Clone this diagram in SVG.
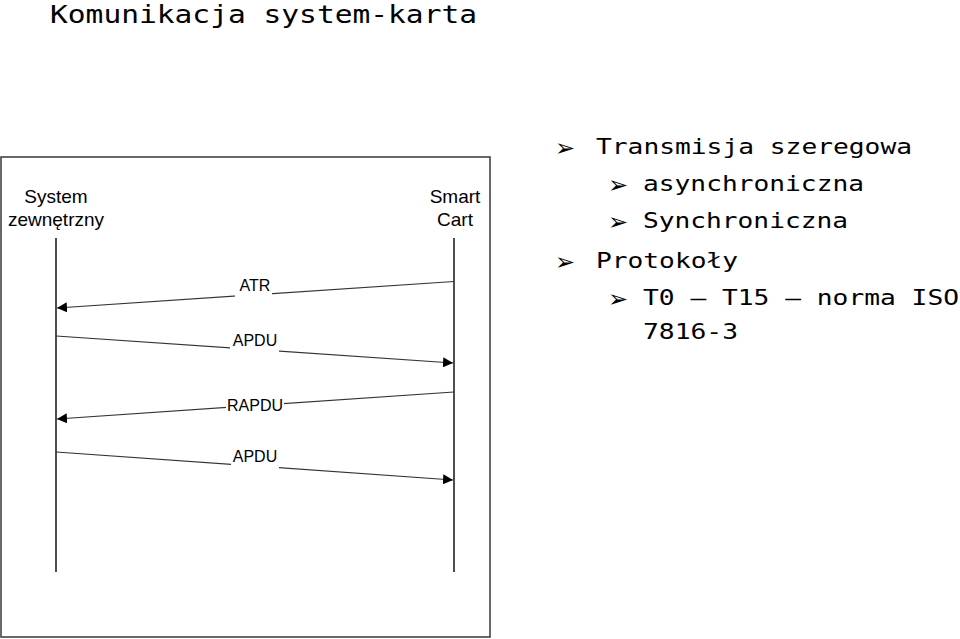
<svg xmlns="http://www.w3.org/2000/svg" width="960" height="639" viewBox="0 0 960 639">
<style>
.mono{font-family:"DejaVu Sans Mono","Liberation Mono",monospace;fill:#000}
.lbl{font-family:"Liberation Sans",Arial,sans-serif;fill:#000}
.msg{font-family:"Liberation Sans",Arial,sans-serif;font-size:16px;fill:#000;text-anchor:middle}
.gap{fill:#fff;stroke:none}
.bul{font-family:"DejaVu Sans",sans-serif;font-size:24px;fill:#000}
.conn{stroke:#333;stroke-width:1.2;fill:none;marker-end:url(#ah)}
.life{stroke:#222;stroke-width:1.6}
</style>
<defs>
<marker id="ah" viewBox="0 0 10 10" refX="10" refY="5" markerWidth="10" markerHeight="10" markerUnits="userSpaceOnUse" orient="auto">
<path d="M0,0 L10,5 L0,10 Z" fill="#000"/>
</marker>
</defs>
<rect width="960" height="639" fill="#fff"/>
<text class="mono" x="50" y="23" font-size="24" textLength="427" lengthAdjust="spacingAndGlyphs">Komunikacja system-karta</text>

<rect id="frame" x="1" y="157" width="489" height="480" fill="none" stroke="#444" stroke-width="1.6"/>

<g id="system">
<text class="lbl" font-size="19" text-anchor="middle" x="56" y="203">System</text>
<text class="lbl" font-size="19" text-anchor="middle" x="56" y="226">zewnętrzny</text>
<line class="life" x1="56" y1="238" x2="56" y2="572"/>
</g>
<g id="card">
<text class="lbl" font-size="19" text-anchor="middle" x="455" y="203">Smart</text>
<text class="lbl" font-size="19" text-anchor="middle" x="455" y="226">Cart</text>
<line class="life" x1="454" y1="238" x2="454" y2="572"/>
</g>

<g id="connectors">
<line class="conn" x1="454" y1="281.5" x2="57" y2="308"/>
<line class="conn" x1="56" y1="336" x2="453" y2="363"/>
<line class="conn" x1="454" y1="392" x2="57" y2="419"/>
<line class="conn" x1="56" y1="452" x2="453" y2="480"/>
<rect class="gap" x="235" y="275" width="37" height="25"/>
<rect class="gap" x="230" y="330" width="49" height="24"/>
<rect class="gap" x="226" y="395" width="58" height="22"/>
<rect class="gap" x="231" y="446" width="48" height="25"/>
<text class="msg" x="255" y="291">ATR</text>
<text class="msg" x="255" y="346">APDU</text>
<text class="msg" x="255" y="411">RAPDU</text>
<text class="msg" x="255" y="462">APDU</text>
</g>

<g id="bullets">
<text class="bul" x="555" y="156">➢</text>
<text class="mono" x="596" y="154" font-size="21" textLength="316" lengthAdjust="spacingAndGlyphs">Transmisja szeregowa</text>
<text class="bul" x="608" y="193">➢</text>
<text class="mono" x="643" y="191" font-size="21" textLength="221" lengthAdjust="spacingAndGlyphs">asynchroniczna</text>
<text class="bul" x="608" y="230">➢</text>
<text class="mono" x="643" y="228" font-size="21" textLength="205" lengthAdjust="spacingAndGlyphs">Synchroniczna</text>
<text class="bul" x="555" y="270">➢</text>
<text class="mono" x="596" y="268" font-size="21" textLength="142" lengthAdjust="spacingAndGlyphs">Protokoły</text>
<text class="bul" x="608" y="307">➢</text>
<text class="mono" x="643" y="305" font-size="21" textLength="316" lengthAdjust="spacingAndGlyphs">T0 – T15 – norma ISO</text>
<text class="mono" x="643" y="339" font-size="21" textLength="95" lengthAdjust="spacingAndGlyphs">7816-3</text>
</g>
</svg>
